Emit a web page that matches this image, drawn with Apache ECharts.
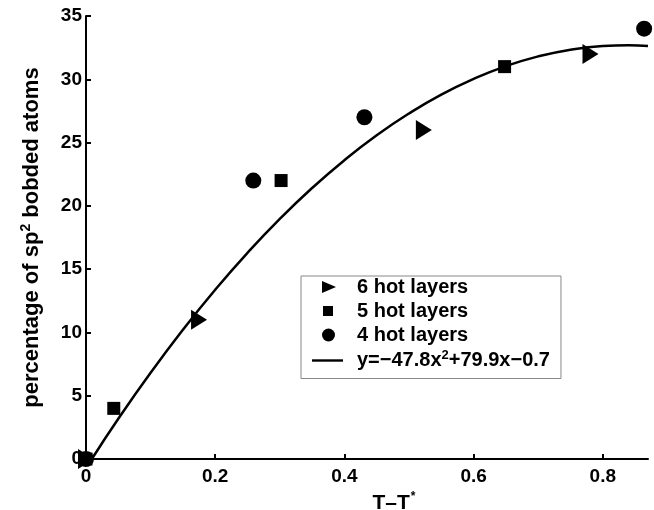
<!DOCTYPE html>
<html>
<head>
<meta charset="utf-8">
<script src="https://cdn.jsdelivr.net/npm/echarts@6/dist/echarts.min.js"></script>
<style>
  html, body { margin: 0; padding: 0; background: #fff; }
  #chart { width: 654px; height: 510px; }
</style>
</head>
<body>
<div id="chart"></div>
<script>
// measured points (T-T*, % sp2)
const hot6 = [[0, 0], [0.175, 11], [0.523, 26], [0.781, 32]];
const hot5 = [[0, 0], [0.043, 4], [0.302, 22], [0.648, 31]];
const hot4 = [[0, 0], [0.259, 22], [0.431, 27], [0.864, 34]];
// fitted curve
const fitX = [0.009, 0.05, 0.1, 0.15, 0.2, 0.25, 0.3, 0.35, 0.4, 0.45, 0.5, 0.55, 0.6, 0.65, 0.7, 0.75, 0.8, 0.84, 0.87];
const fitY = [0, 3.18, 6.81, 10.21, 13.37, 16.29, 18.97, 21.41, 23.61, 25.58, 27.3, 28.79, 30.03, 31.04, 31.81, 32.34, 32.63, 32.69, 32.63];
const xTicks = [0, 0.2, 0.4, 0.6, 0.8];

const font = "'Liberation Sans', Arial, sans-serif";
const black = '#000';

// legend icons: 40x20 box (the two moveTo points fix the box), marker near the left
const box = 'path://M0,0 M40,20 ';
const icons = {
  tri: box + 'M10,4 L24,10 L10,16 Z',
  sq: box + 'M11,5 L21,5 L21,15 L11,15 Z',
  circ: box + 'M10,10 A6.5,6.5 0 1,0 23,10 A6.5,6.5 0 1,0 10,10 Z',
  line: box + 'M0,8.8 L31,8.8 L31,11.2 L0,11.2 Z'
};

const chart = echarts.init(document.getElementById('chart'));

chart.setOption({
  animation: false,
  grid: { left: 86, right: 6, top: 16, bottom: 51, outerBoundsMode: 'none', containLabel: false },
  xAxis: {
    type: 'value',
    min: 0,
    max: 0.87,
    interval: 0.2,
    name: '{a|T\u2013T}{s|*}',
    nameLocation: 'middle',
    nameGap: 28,
    nameTextStyle: {
      padding: [0, 0, 0, 54],
      rich: {
        a: { fontFamily: font, fontWeight: 'bold', fontSize: 21, color: black },
        s: { fontFamily: font, fontWeight: 'bold', fontSize: 12, color: black, verticalAlign: 'top', padding: [0, 0, 12, 1] }
      }
    },
    axisLine: { lineStyle: { color: black, width: 2 } },
    axisTick: { inside: true, length: 5, customValues: xTicks, lineStyle: { color: black, width: 2 } },
    axisLabel: {
      customValues: xTicks,
      margin: 8,
      color: black, fontFamily: font, fontWeight: 'bold', fontSize: 19
    },
    splitLine: { show: false }
  },
  yAxis: {
    type: 'value',
    min: 0,
    max: 35,
    interval: 5,
    name: '{a|percentage of sp}{s|2}{a| bobded atoms}',
    nameLocation: 'middle',
    nameGap: 41,
    nameRotate: 90,
    nameTextStyle: {
      rich: {
        a: { fontFamily: font, fontWeight: 'bold', fontSize: 22, color: black },
        s: { fontFamily: font, fontWeight: 'bold', fontSize: 14, color: black, verticalAlign: 'top', padding: [0, 0, 12, 0] }
      }
    },
    axisLine: { show: true, lineStyle: { color: black, width: 2 } },
    axisTick: { show: true, inside: true, length: 5, lineStyle: { color: black, width: 2 } },
    axisLabel: { margin: 4, color: black, fontFamily: font, fontWeight: 'bold', fontSize: 19 },
    splitLine: { show: false }
  },
  legend: {
    orient: 'vertical',
    left: 301,
    top: 276,
    backgroundColor: '#fff',
    borderColor: '#888',
    borderWidth: 1,
    borderRadius: 0,
    padding: [1, 11, 8, 11],
    itemGap: 4,
    itemWidth: 40,
    itemHeight: 20,
    inactiveColor: black,
    textStyle: {
      fontFamily: font, fontWeight: 'bold', fontSize: 20, color: black,
      rich: {
        a: { fontFamily: font, fontWeight: 'bold', fontSize: 20, color: black },
        s: { fontFamily: font, fontWeight: 'bold', fontSize: 13, color: black, verticalAlign: 'top', padding: [0, 0, 10, 0] }
      }
    },
    formatter: function (name) {
      if (name.indexOf('y=') === 0) {
        return '{a|y=\u221247.8x}{s|2}{a|+79.9x\u22120.7}';
      }
      return name;
    },
    data: [
      { name: '6 hot layers', icon: icons.tri },
      { name: '5 hot layers', icon: icons.sq },
      { name: '4 hot layers', icon: icons.circ },
      { name: 'y=-47.8x2+79.9x-0.7', icon: icons.line }
    ]
  },
  series: [
    {
      name: 'y=-47.8x2+79.9x-0.7',
      type: 'line',
      data: fitX.map((x, i) => [x, fitY[i]]),
      smooth: true,
      symbol: 'none',
      lineStyle: { color: black, width: 2.5 },
      itemStyle: { color: black },
      z: 2
    },
    {
      name: '6 hot layers',
      type: 'scatter',
      data: hot6,
      symbol: 'triangle',
      symbolRotate: -90,
      symbolSize: [20, 16],
      itemStyle: { color: black, opacity: 1 },
      z: 3
    },
    {
      name: '5 hot layers',
      type: 'scatter',
      data: hot5,
      symbol: 'rect',
      symbolSize: 13,
      itemStyle: { color: black, opacity: 1 },
      z: 3
    },
    {
      name: '4 hot layers',
      type: 'scatter',
      data: hot4,
      symbol: 'circle',
      symbolSize: 16,
      itemStyle: { color: black, opacity: 1 },
      z: 3
    }
  ]
});
</script>
</body>
</html>
